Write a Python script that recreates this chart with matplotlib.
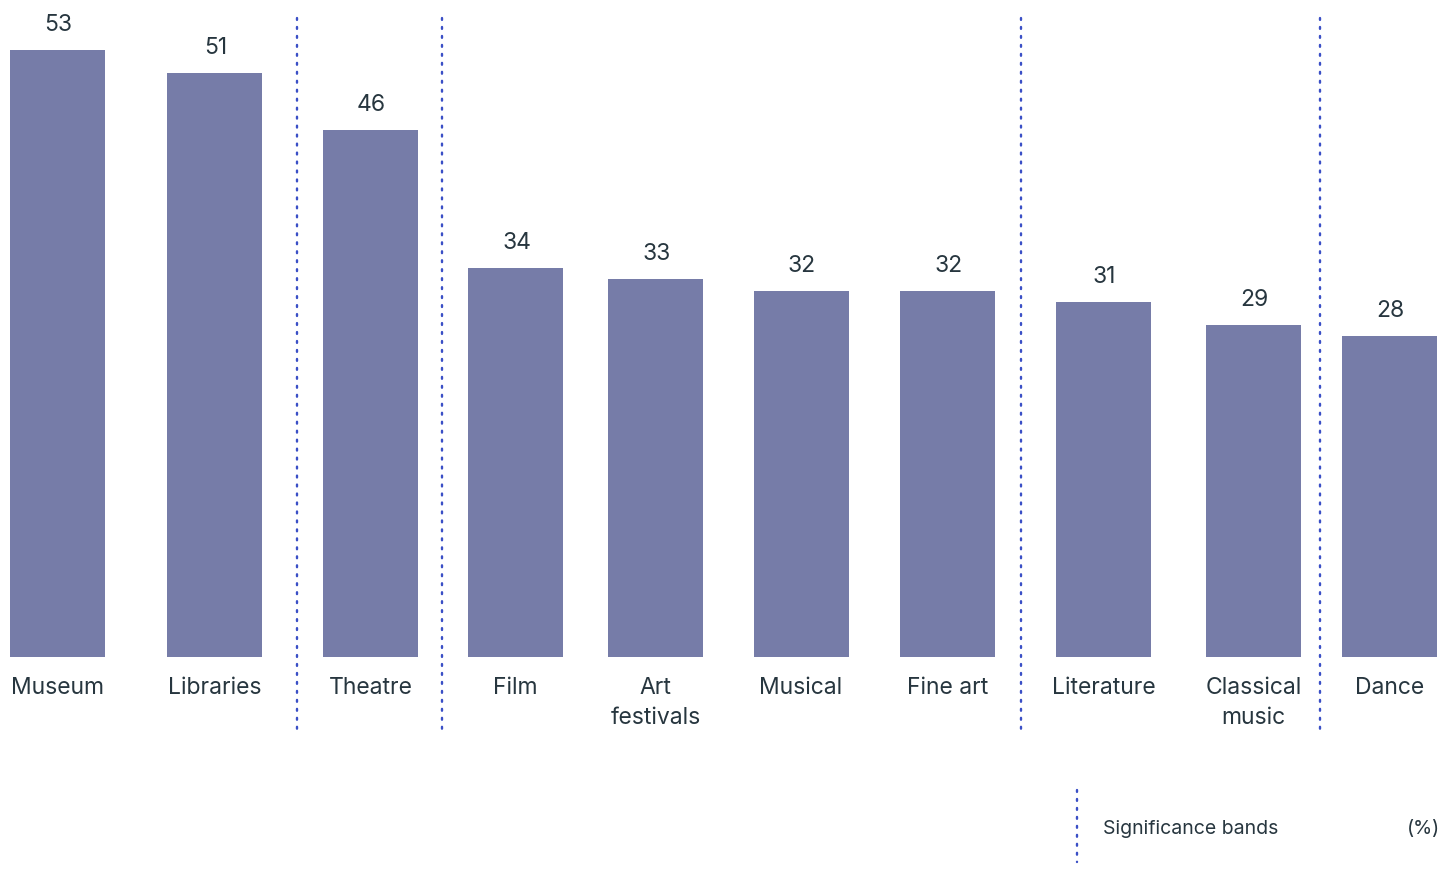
import matplotlib.pyplot as plt

categories = ['Museum', 'Libraries', 'Theatre', 'Film', 'Art\nfestivals', 'Musical',
              'Fine art', 'Literature', 'Classical\nmusic', 'Dance']
values = [53, 51, 46, 34, 33, 32, 32, 31, 29, 28]

# layout (pixel columns of the 1454 px wide canvas)
bar_x = [57.5, 214.5, 370.5, 515.5, 655.5, 801, 947.5, 1103.5, 1253.5, 1389.5]
band_x = [297, 442, 1021, 1320]
bar_w = 95

bar_color = '#767ca8'
text_color = '#27363f'
dot_color = '#3a4fc6'

plt.rcParams['font.family'] = ['Inter', 'DejaVu Sans']

fig = plt.figure(figsize=(14.54, 8.69), dpi=100)
ax = fig.add_axes([0, 0, 1, 1])
px = 11.45  # pixels per percentage point
ax.set_xlim(0, 1454)
ax.set_ylim(-212 / px, (869 - 212) / px)
ax.axis('off')


def to_y(pix):
    return (869 - 212 - pix) / px


ax.bar(bar_x, values, width=bar_w, color=bar_color)
for x, v in zip(bar_x, values):
    ax.text(x + 1, v + 25 / px, str(v), ha='center', va='center',
            fontsize=16.5, color=text_color)

for x, c in zip(bar_x, categories):
    ax.text(x, to_y(677), c, ha='center', va='top', fontsize=16.5,
            color=text_color, linespacing=1.45)

for x in band_x:
    ax.plot([x, x], [to_y(18), to_y(730)], color=dot_color, lw=1.7,
            linestyle=(0, (0.8, 3.0)), dash_capstyle='round')

# legend
ax.plot([1077, 1077], [to_y(790), to_y(862)], color=dot_color, lw=1.7,
        linestyle=(0, (0.8, 3.0)), dash_capstyle='round')
ax.text(1103, to_y(829), 'Significance bands', ha='left', va='center',
        fontsize=14, color=text_color)
ax.text(1440, to_y(829), '(%)', ha='right', va='center',
        fontsize=14, color=text_color)

fig.savefig('out.png', dpi=100)
